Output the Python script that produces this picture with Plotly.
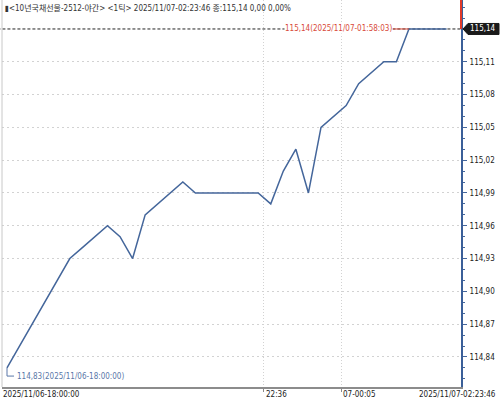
import plotly.graph_objects as go

# ---- data (tick index -> price) ----
prices = [114.83, 114.85, 114.87, 114.89, 114.91, 114.93, 114.94, 114.95, 114.96,
          114.95, 114.93, 114.97, 114.98, 114.99, 115.00, 114.99, 114.99, 114.99,
          114.99, 114.99, 114.99, 114.98, 115.01, 115.03, 114.99, 115.05, 115.06,
          115.07, 115.09, 115.10, 115.11, 115.11, 115.14, 115.14, 115.14, 115.14]
ticks_idx = list(range(len(prices)))

y_tickvals = [114.84, 114.87, 114.90, 114.93, 114.96, 114.99, 115.02, 115.05, 115.08, 115.11]
x_tick_pos = [20.46, 26.6]
x_tick_text = ["22:36", "07-00:05"]
start_label = "2025/11/06-18:00:00"
end_label = "2025/11/07-02:23:46"
title_text = "▮<10년국채선물-2512-야간> <1틱> 2025/11/07-02:23:46 종:115,14 0,00 0,00%"
high_text = "115,14(2025/11/07-01:58:03)"
low_text = "114,83(2025/11/06-18:00:00)"
last_price = 115.14
first_price = 114.83
high_idx = 32

FONT = "Liberation Sans Narrow, DejaVu Sans Condensed, Noto Sans CJK KR, sans-serif"
FS = 8
LINE = "#44669b"
GRID = "#d2d2d2"

fig = go.Figure()
fig.add_trace(go.Scatter(x=ticks_idx, y=prices, mode="lines",
                         line=dict(color=LINE, width=1.5), hoverinfo="skip"))

YMIN, YMAX = 114.8125, 115.1665
XMIN, XMAX = -0.398, 36.146

fig.update_layout(
    width=500, height=402,
    margin=dict(l=2, r=39, t=0, b=15),
    paper_bgcolor="white", plot_bgcolor="white",
    showlegend=False,
    separators=",.",
    font=dict(family=FONT, size=FS, color="#333333"),
    xaxis=dict(range=[XMIN, XMAX], tickvals=x_tick_pos, ticktext=x_tick_text,
               showticklabels=False, ticks="outside", ticklen=3, tickcolor="#888888",
               showgrid=True, gridcolor=GRID, griddash="1px,2px", gridwidth=1,
               showline=True, linecolor="#8c8c8c", linewidth=2, zeroline=False),
    yaxis=dict(range=[YMIN, YMAX], side="right", tickvals=y_tickvals, tickformat=".2f",
               ticks="outside", ticklen=4, tickcolor="#44669b",
               minor=dict(dtick=0.01, tick0=114.84, ticks="outside", ticklen=2,
                          tickcolor="#44669b", showgrid=False),
               showgrid=True, gridcolor=GRID, griddash="2px,3px", gridwidth=1,
               showline=True, linecolor="#3b5f98", linewidth=2, zeroline=False,
               ticklabelstandoff=1,
               tickfont=dict(family=FONT, size=FS, color="#222222")),
)

shapes = []
shapes.append(dict(type="line", xref="paper", yref="y", x0=-0.01, x1=1, y0=last_price, y1=last_price,
                   line=dict(color="#222222", width=1, dash="3px,2px"), layer="below"))
shapes.append(dict(type="line", xref="paper", yref="paper", x0=1, x1=1,
                   y0=(last_price - YMIN) / (YMAX - YMIN), y1=1,
                   line=dict(color="#e03a2a", width=2)))
shapes.append(dict(type="line", xref="paper", yref="paper", x0=0, x1=0, y0=0, y1=1,
                   line=dict(color="#c8c8c8", width=1)))
low_y = 114.8225
shapes.append(dict(type="path", xref="x", yref="y",
                   path=f"M 0,{first_price} L 0,{low_y} L 0.56,{low_y}",
                   line=dict(color="#5a77a8", width=1)))
shapes.append(dict(type="path", xref="paper", yref="y", xsizemode="pixel", ysizemode="pixel",
                   xanchor=1, yanchor=last_price,
                   path="M 2,0 L 7,5.5 L 38,5.5 L 38,-5.5 L 7,-5.5 Z",
                   fillcolor="#1a1a1a", line=dict(color="#1a1a1a", width=1)))
fig.update_layout(shapes=shapes)

ann = []
ann.append(dict(text=title_text, xref="paper", yref="paper", x=0, y=1, xanchor="left", yanchor="top",
                xshift=1, yshift=-1, showarrow=False, font=dict(family=FONT, size=FS, color="#333333")))
ann.append(dict(text=high_text, xref="x", yref="y", x=high_idx, y=last_price,
                showarrow=True, ax=-16, ay=0, xanchor="right", arrowhead=0, arrowwidth=1,
                arrowcolor="#d84a3a", bgcolor="white", borderpad=0,
                font=dict(family=FONT, size=FS, color="#d84a3a")))
ann.append(dict(text=low_text, xref="x", yref="y", x=0.62, y=low_y, xanchor="left", yanchor="middle",
                showarrow=False, font=dict(family=FONT, size=FS, color="#5a77a8")))
ann.append(dict(text="115,14", xref="paper", yref="y", x=1, y=last_price, xanchor="center",
                yanchor="middle", xshift=21.5, showarrow=False,
                font=dict(family=FONT, size=FS, color="white")))
ann.append(dict(text=start_label, xref="paper", yref="paper", x=0, y=0, xanchor="left", yanchor="top",
                xshift=-1, yshift=-1, showarrow=False, font=dict(family=FONT, size=FS, color="#222222")))
for pos, txt in zip(x_tick_pos, x_tick_text):
    ann.append(dict(text=txt, xref="x", yref="paper", x=pos, y=0, xanchor="left", yanchor="top",
                    yshift=-1, showarrow=False, font=dict(family=FONT, size=FS, color="#222222")))
ann.append(dict(text=end_label, xref="paper", yref="paper", x=1, y=0, xanchor="right", yanchor="top",
                xshift=37, yshift=-1, showarrow=False, font=dict(family=FONT, size=FS, color="#222222")))
fig.update_layout(annotations=ann)

fig.write_html("out.html", config={"displayModeBar": False},
               post_script="document.body.style.margin='0';document.body.style.padding='0';"
                           "document.documentElement.style.overflow='hidden';")
